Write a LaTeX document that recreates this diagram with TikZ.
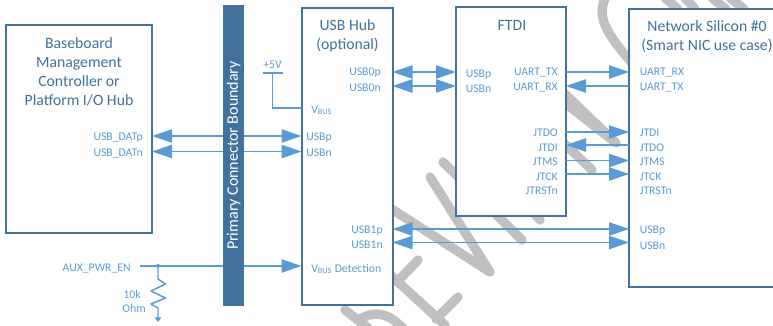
\documentclass[tikz,border=0pt]{standalone}
\usepackage{fontspec}
\setmainfont{Carlito}
\usetikzlibrary{arrows.meta,positioning}
\definecolor{boxblue}{HTML}{41719C}
\definecolor{sigblue}{HTML}{5B9BD5}
\definecolor{markgray}{HTML}{C0C0C0}

\begin{document}
\begin{tikzpicture}[
    x=0.75pt, y=-0.75pt,
    block/.style={
      draw=boxblue,
      fill=white,
      line width=1.5pt,
      outer sep=0pt,
      inner sep=0pt
    },
    title/.style={
      text=boxblue,
      align=center,
      inner sep=0pt,
      font=\fontsize{11.8}{14.25}\selectfont
    },
    sig/.style={
      text=sigblue,
      inner sep=0pt,
      yshift=-0.75pt,
      font=\fontsize{8.8}{10}\selectfont
    },
    sigl/.style={sig, anchor=west},
    sigr/.style={sig, anchor=east},
    wire/.style={draw=sigblue, line width=1.1pt},
    oneway/.style={wire, -{Triangle[length=15pt,width=10pt,fill=sigblue]}},
    twoway/.style={wire, {Triangle[length=15pt,width=10pt,fill=sigblue]}-{Triangle[length=15pt,width=10pt,fill=sigblue]}},
    wmark/.style={draw=markgray, line width=7pt, line cap=round, line join=round}
  ]
    \path[use as bounding box, clip] (0,0) rectangle (773,325);

    % watermark
    \draw[wmark] (345,310) -- (368,328);
    \draw[wmark] (360,319) .. controls (378,309) and (390,315) .. (405,330);
    \draw[wmark] (385,270) -- (445,325);
    \draw[wmark] (418,260) -- (398,281);
    \draw[wmark] (458,297) -- (436,319);
    \draw[wmark] (390,208) -- (490,272) -- (430,177);
    \draw[wmark] (443,162) -- (522,240);
    \draw[wmark] (480,150) -- (540,220);
    \draw[wmark] (540,70) -- (616,143) -- (555,95);
    \draw[wmark] (545,125) -- (592,170);
    \draw[wmark] (607,-5) .. controls (596,15) and (602,30) .. (640,72);
    \draw[wmark] (665,-2) -- (678,9);
    \draw[wmark] (685,-2) -- (695,9);
    \draw[wmark] (712,-2) -- (726,9);
    \draw[wmark] (730,-2) -- (744,9);

    % blocks
    \node[block, minimum width=109.5pt, minimum height=156pt] (bmc) at (79,129) {};
    \node[block, minimum width=68.25pt, minimum height=222.75pt] (hub) at (347,156.5) {};
    \node[block, minimum width=82.5pt, minimum height=156.75pt] (ftdi) at (511,111.5) {};
    \node[block, minimum width=128.25pt, minimum height=208.5pt] (nic) at (714.5,148) {};

    \node[title] (bmctitle) at (79,71.5) {Baseboard\\Management\\Controller or\\Platform I/O Hub};
    \node[title] (hubtitle) at (347.5,35.5) {USB Hub\\(optional)};
    \node[title] (ftdititle) at (512,25) {FTDI};
    \node[title] (nictitle) at (707,36.5) {Network Silicon \#0\\(Smart NIC use case)};

    % signal rows
    \coordinate (rowvbus) at (0,108);
    \coordinate (rowdatp) at (0,136);
    \coordinate (rowdatn) at (0,151.5);
    \coordinate (rowdet) at (0,266);
    \coordinate (rowzerop) at (0,72);
    \coordinate (rowzeron) at (0,86);
    \coordinate (rowtdo) at (0,132);
    \coordinate (rowtdi) at (0,145);
    \coordinate (rowtms) at (0,160.5);
    \coordinate (rowtck) at (0,174);
    \coordinate (rowonep) at (0,229);
    \coordinate (rowonen) at (0,242.5);

    % labels
    \node[sigr] (datp) at (143,137) {USB\_DATp};
    \node[sigr] (datn) at (143,152) {USB\_DATn};
    \node[sigr] (auxen) at (131,268) {AUX\_PWR\_EN};
    \node[sig] (resval) at (132,293) {10k};
    \node[sig] (resunit) at (134,307) {Ohm};
    \node[sig] (plusfive) at (272.5,64) {+5V};

    \node[sigl] (vbus) at (311,109) {V\textsubscript{BUS}};
    \node[sigl] (hubp) at (306,137) {USBp};
    \node[sigl] (hubn) at (306,152) {USBn};
    \node[sigl] (vdet) at (311,268) {V\textsubscript{BUS} Detection};
    \node[sigr] (zerop) at (381,72) {USB0p};
    \node[sigr] (zeron) at (381,87) {USB0n};
    \node[sigr] (onep) at (383,229.5) {USB1p};
    \node[sigr] (onen) at (383,244) {USB1n};

    \node[sigl] (ftp) at (465.5,74) {USBp};
    \node[sigl] (ftn) at (465.5,88) {USBn};
    \node[sigr] (ftx) at (558,72) {UART\_TX};
    \node[sigr] (frx) at (558,87) {UART\_RX};
    \node[sigr] (ftdo) at (558,132) {JTDO};
    \node[sigr] (ftdi2) at (558,147) {JTDI};
    \node[sigr] (ftms) at (558,161) {JTMS};
    \node[sigr] (ftck) at (558,176) {JTCK};
    \node[sigr] (ftrst) at (558,190) {JTRSTn};

    \node[sigl] (nrx) at (639.5,72) {UART\_RX};
    \node[sigl] (ntx) at (639.5,87) {UART\_TX};
    \node[sigl] (ntdi) at (639.5,132) {JTDI};
    \node[sigl] (ntdo) at (639.5,147) {JTDO};
    \node[sigl] (ntms) at (639.5,161) {JTMS};
    \node[sigl] (ntck) at (639.5,176) {JTCK};
    \node[sigl] (nrst) at (639.5,190) {JTRSTn};
    \node[sigl] (nusbp) at (639.5,230) {USBp};
    \node[sigl] (nusbn) at (639.5,245) {USBn};

    % connectors
    \draw[twoway] (bmc.east |- rowdatp) -- (hub.west |- rowdatp);
    \draw[twoway] (bmc.east |- rowdatn) -- (hub.west |- rowdatn);
    \draw[twoway] (hub.east |- rowzerop) -- (ftdi.west |- rowzerop);
    \draw[twoway] (hub.east |- rowzeron) -- (ftdi.west |- rowzeron);
    \draw[twoway] (hub.east |- rowonep) -- (nic.west |- rowonep);
    \draw[twoway] (hub.east |- rowonen) -- (nic.west |- rowonen);

    \draw[oneway] (ftdi.east |- rowzerop) -- (nic.west |- rowzerop);
    \draw[oneway] (nic.west |- rowzeron) -- (ftdi.east |- rowzeron);
    \draw[oneway] (ftdi.east |- rowtdo) -- (nic.west |- rowtdo);
    \draw[oneway] (nic.west |- rowtdi) -- (ftdi.east |- rowtdi);
    \draw[oneway] (ftdi.east |- rowtms) -- (nic.west |- rowtms);
    \draw[oneway] (ftdi.east |- rowtck) -- (nic.west |- rowtck);

    % power rail
    \coordinate (railleft) at (263,73);
    \coordinate (railright) at (283,73);
    \coordinate (railmid) at (272.5,73);
    \draw[wire] (railleft) -- (railright);
    \draw[wire] (railmid) |- (hub.west |- rowvbus);

    % enable line and pull-down
    \coordinate (auxstart) at (140,266);
    \node[circle, fill=sigblue, inner sep=0pt, minimum size=3pt] (jct) at (158,266) {};
    \coordinate (gnd) at (158,322);
    \draw[oneway] (auxstart) -- (hub.west |- rowdet);
    \draw[wire, -{Triangle[length=3.5pt,width=5pt,fill=sigblue]}, line join=round]
      (jct) -- (158,279) -- (165.5,284) -- (151,291) -- (165.5,298) -- (151,304) -- (158,308) -- (gnd);

    % boundary bar
    \node[fill=boxblue, minimum width=15.75pt, minimum height=225.75pt, inner sep=0pt, outer sep=0pt] (bar) at (233.5,155.5) {};
    \node[rotate=90, text=white, inner sep=0pt, font=\fontsize{12}{14}\selectfont] (bartext) at (bar.center) {Primary Connector Boundary};
  \end{tikzpicture}
\end{document}
